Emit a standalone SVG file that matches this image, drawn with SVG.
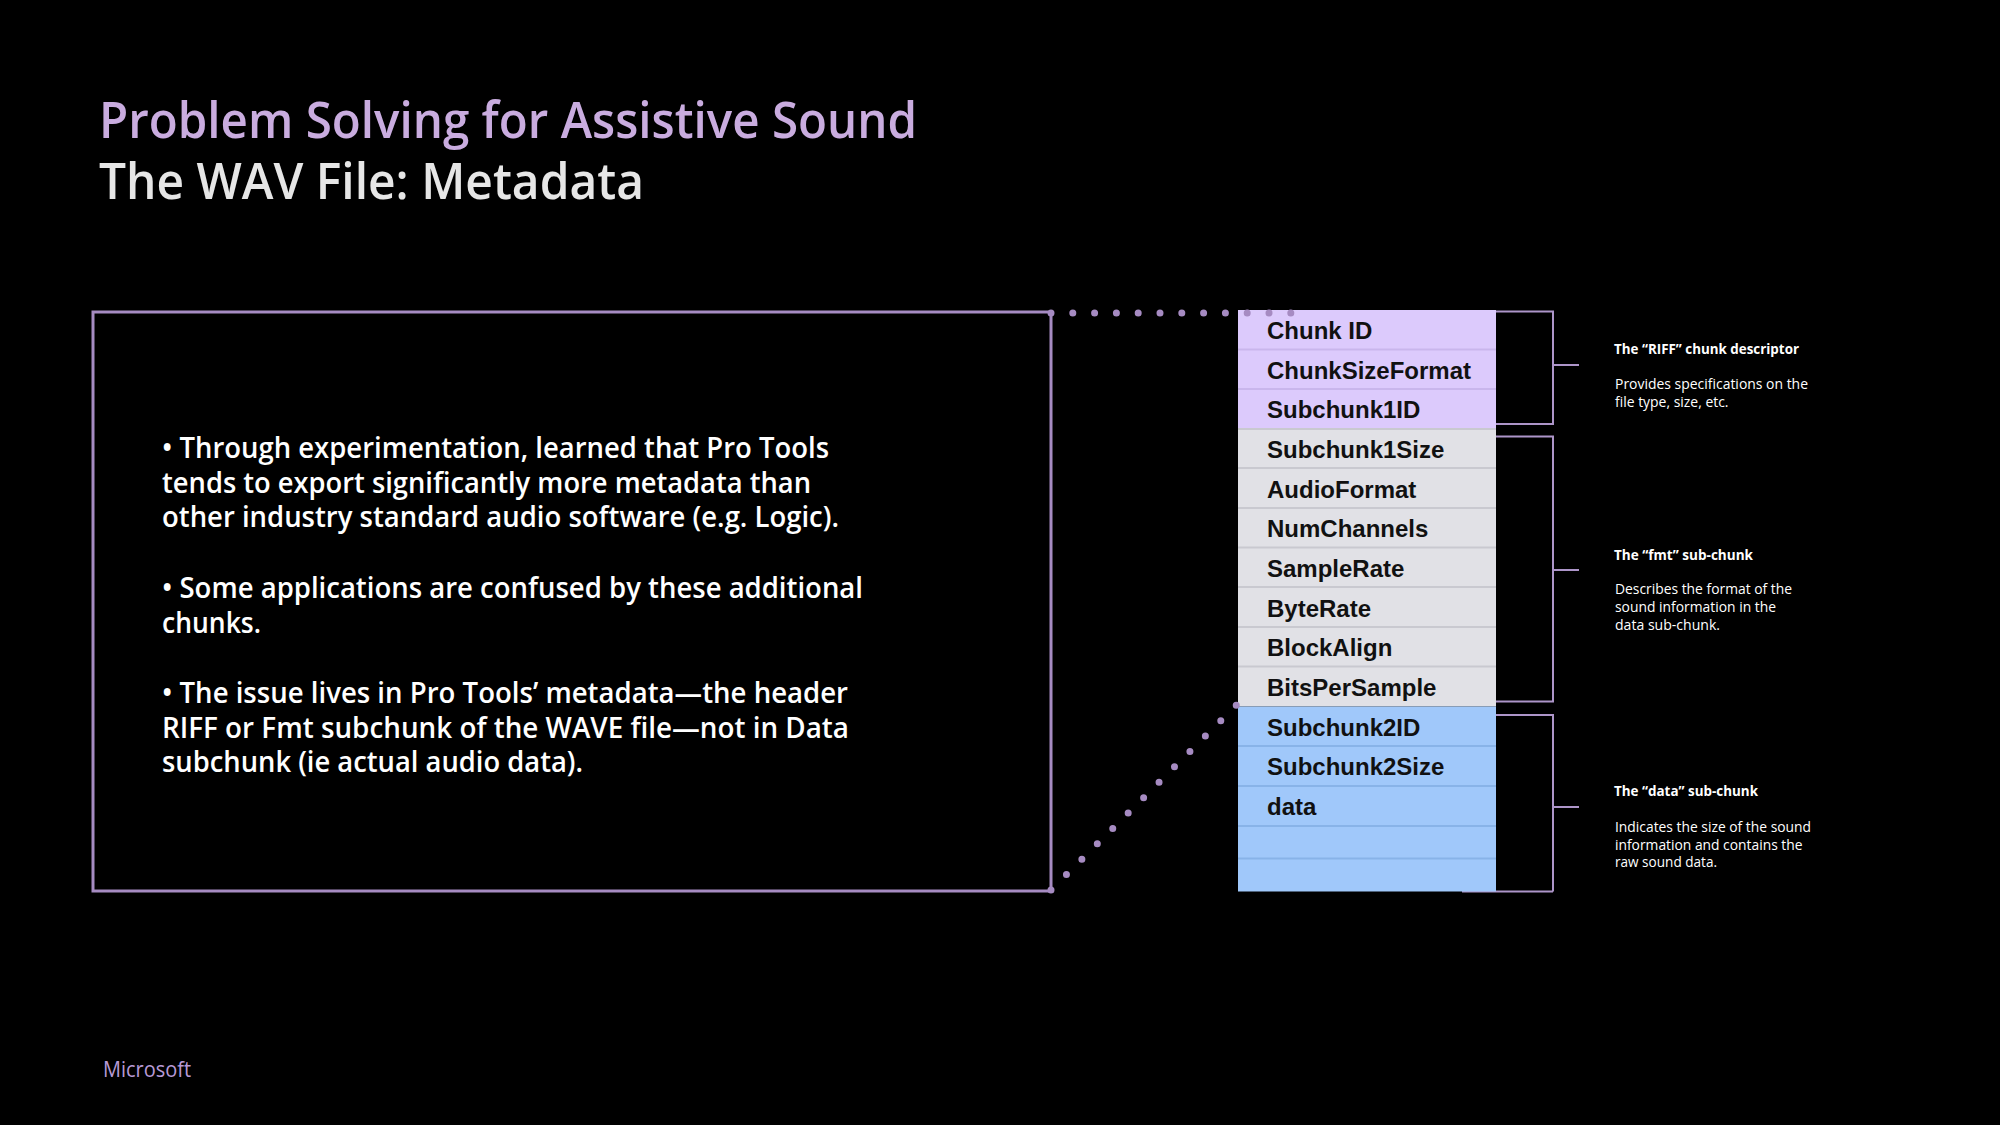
<svg xmlns="http://www.w3.org/2000/svg" width="2000" height="1125" viewBox="0 0 2000 1125">
<style>
.t1{font-family:"Open Sans","Noto Sans",sans-serif;font-weight:600;font-size:50px;fill:#c9acdf}
.t2{font-family:"Open Sans","Noto Sans",sans-serif;font-weight:600;font-size:50px;fill:#e6e6e6}
.body{font-family:"Open Sans","Noto Sans",sans-serif;font-weight:600;font-size:28px;fill:#ffffff}
.cell{font-family:"Liberation Sans",Arial,sans-serif;font-weight:700;font-size:24px;fill:#111111}
.ah{font-family:"Open Sans","Noto Sans",sans-serif;font-weight:700;font-size:15px;fill:#ffffff}
.ad{font-family:"Open Sans","Noto Sans",sans-serif;font-weight:400;font-size:14.5px;fill:#ffffff}
.ms{font-family:"Open Sans","Noto Sans",sans-serif;font-weight:400;font-size:21px;fill:#b79ad6}
.frame{fill:none;stroke:#a68bc2;stroke-width:3}
.br{fill:none;stroke:#ad95c9;stroke-width:2}
.dots{fill:none;stroke:#a68bc2;stroke-width:7;stroke-linecap:round;stroke-dasharray:0 21.8}
.p{fill:#dccafc}.g{fill:#e1e1e6}.b{fill:#a0c8fa}
.sp{stroke:#c9b6ec;stroke-width:2}.sg{stroke:#c9c9d0;stroke-width:2}.sb{stroke:#88b3e8;stroke-width:2}
</style>
<rect width="2000" height="1125" fill="#000"/>
<g id="title">
<text class="t1" x="99" y="138" textLength="818" lengthAdjust="spacingAndGlyphs">Problem Solving for Assistive Sound</text>
<text class="t2" x="99" y="199" textLength="545" lengthAdjust="spacingAndGlyphs">The WAV File: Metadata</text>
</g>
<g id="textbox">
<rect class="frame" x="93" y="312" width="958" height="579"/>
<text class="body" x="162" y="458" textLength="667" lengthAdjust="spacingAndGlyphs">• Through experimentation, learned that Pro Tools</text>
<text class="body" x="162" y="492.5" textLength="649" lengthAdjust="spacingAndGlyphs">tends to export significantly more metadata than</text>
<text class="body" x="162" y="527" textLength="677" lengthAdjust="spacingAndGlyphs">other industry standard audio software (e.g. Logic).</text>
<text class="body" x="162" y="598" textLength="701" lengthAdjust="spacingAndGlyphs">• Some applications are confused by these additional</text>
<text class="body" x="162" y="633" textLength="99" lengthAdjust="spacingAndGlyphs">chunks.</text>
<text class="body" x="162" y="703" textLength="686" lengthAdjust="spacingAndGlyphs">• The issue lives in Pro Tools’ metadata—the header</text>
<text class="body" x="162" y="737.5" textLength="687" lengthAdjust="spacingAndGlyphs">RIFF or Fmt subchunk of the WAVE file—not in Data</text>
<text class="body" x="162" y="772" textLength="421" lengthAdjust="spacingAndGlyphs">subchunk (ie actual audio data).</text>
</g>
<g id="brackets">
<line class="br" x1="1462" y1="891.5" x2="1553" y2="891.5"/>
<path class="br" d="M1496 311.5H1553V424H1496"/>
<path class="br" d="M1496 436.5H1553V701.5H1496"/>
<path class="br" d="M1496 715H1553V891.5"/>
<line class="br" x1="1553" y1="365" x2="1579" y2="365"/>
<line class="br" x1="1553" y1="570" x2="1579" y2="570"/>
<line class="br" x1="1553" y1="807" x2="1579" y2="807"/>
</g>
<g id="table">
<rect class="p" x="1238" y="310" width="258" height="119"/>
<rect class="g" x="1238" y="429" width="258" height="277.5"/>
<rect class="b" x="1238" y="706.5" width="258" height="185"/>
<line class="sp" x1="1238" y1="349.5" x2="1496" y2="349.5"/>
<line class="sp" x1="1238" y1="389" x2="1496" y2="389"/>
<line class="sg" x1="1238" y1="429" x2="1496" y2="429"/>
<line class="sg" x1="1238" y1="468" x2="1496" y2="468"/>
<line class="sg" x1="1238" y1="508" x2="1496" y2="508"/>
<line class="sg" x1="1238" y1="547.5" x2="1496" y2="547.5"/>
<line class="sg" x1="1238" y1="587" x2="1496" y2="587"/>
<line class="sg" x1="1238" y1="627" x2="1496" y2="627"/>
<line class="sg" x1="1238" y1="666.5" x2="1496" y2="666.5"/>
<line class="sb" x1="1238" y1="746" x2="1496" y2="746"/>
<line class="sb" x1="1238" y1="786" x2="1496" y2="786"/>
<line class="sb" x1="1238" y1="826" x2="1496" y2="826"/>
<line class="sb" x1="1238" y1="858.5" x2="1496" y2="858.5"/>
<text class="cell" x="1267" y="339">Chunk ID</text>
<text class="cell" x="1267" y="378.5">ChunkSizeFormat</text>
<text class="cell" x="1267" y="418">Subchunk1ID</text>
<text class="cell" x="1267" y="458">Subchunk1Size</text>
<text class="cell" x="1267" y="497.5">AudioFormat</text>
<text class="cell" x="1267" y="537">NumChannels</text>
<text class="cell" x="1267" y="577">SampleRate</text>
<text class="cell" x="1267" y="616.5">ByteRate</text>
<text class="cell" x="1267" y="656">BlockAlign</text>
<text class="cell" x="1267" y="696">BitsPerSample</text>
<text class="cell" x="1267" y="735.5">Subchunk2ID</text>
<text class="cell" x="1267" y="775">Subchunk2Size</text>
<text class="cell" x="1267" y="815">data</text>
</g>
<g id="connectors">
<line class="dots" x1="1051" y1="313" x2="1291" y2="313"/>
<line class="dots" x1="1051" y1="890" x2="1236.5" y2="705"/>
</g>
<g id="annot-riff">
<text class="ah" x="1614" y="354" textLength="185" lengthAdjust="spacingAndGlyphs">The “RIFF” chunk descriptor</text>
<text class="ad" x="1615" y="389" textLength="193" lengthAdjust="spacingAndGlyphs">Provides specifications on the</text>
<text class="ad" x="1615" y="407" textLength="113.5" lengthAdjust="spacingAndGlyphs">file type, size, etc.</text>
</g>
<g id="annot-fmt">
<text class="ah" x="1614" y="560" textLength="139" lengthAdjust="spacingAndGlyphs">The “fmt” sub-chunk</text>
<text class="ad" x="1615" y="594" textLength="177" lengthAdjust="spacingAndGlyphs">Describes the format of the</text>
<text class="ad" x="1615" y="612" textLength="161" lengthAdjust="spacingAndGlyphs">sound information in the</text>
<text class="ad" x="1615" y="630" textLength="105" lengthAdjust="spacingAndGlyphs">data sub-chunk.</text>
</g>
<g id="annot-data">
<text class="ah" x="1614" y="796" textLength="144" lengthAdjust="spacingAndGlyphs">The “data” sub-chunk</text>
<text class="ad" x="1615" y="831.5" textLength="196" lengthAdjust="spacingAndGlyphs">Indicates the size of the sound</text>
<text class="ad" x="1615" y="849.5" textLength="187.5" lengthAdjust="spacingAndGlyphs">information and contains the</text>
<text class="ad" x="1615" y="867" textLength="102" lengthAdjust="spacingAndGlyphs">raw sound data.</text>
</g>
<g id="footer">
<text class="ms" x="103" y="1077" textLength="88" lengthAdjust="spacingAndGlyphs">Microsoft</text>
</g>
</svg>
